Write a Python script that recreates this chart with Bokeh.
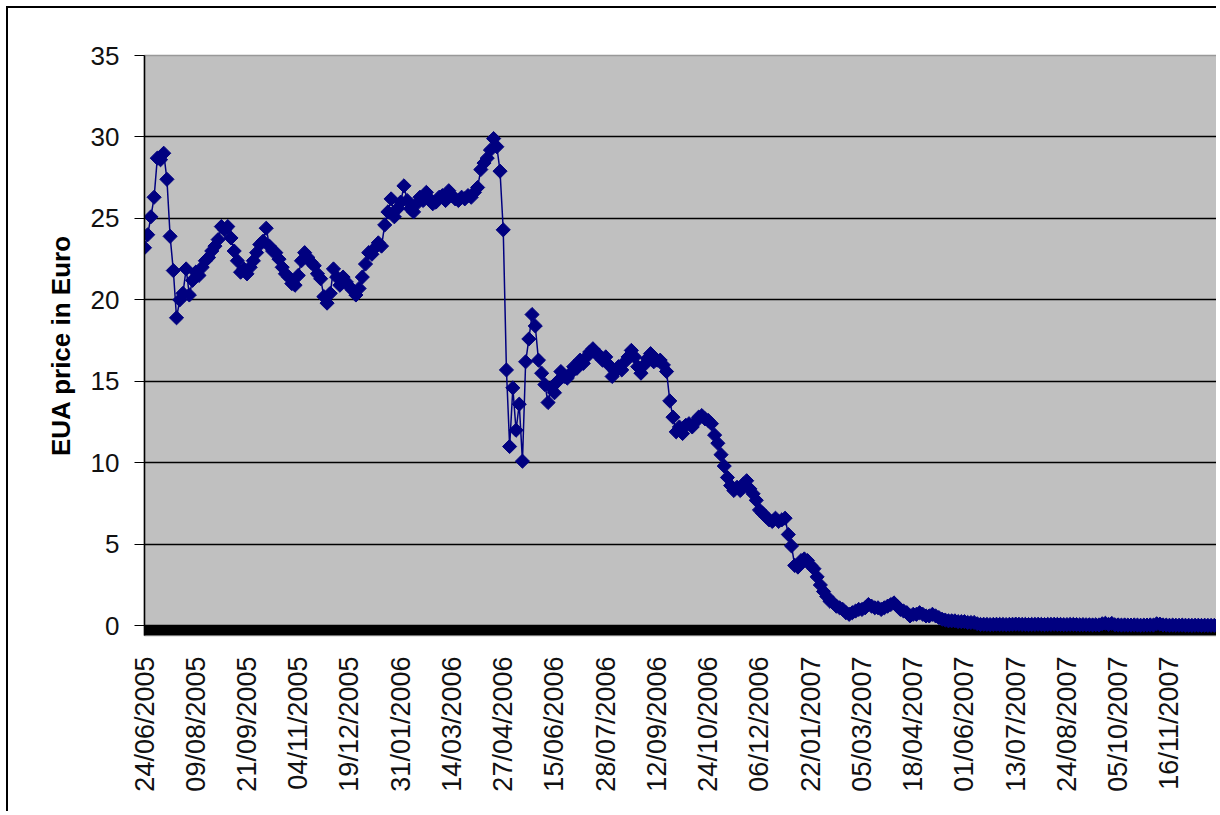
from math import pi
from bokeh.plotting import figure
from bokeh.models import Range1d, FixedTicker, BoxAnnotation, ColumnDataSource
from bokeh.embed import file_html
from bokeh.resources import INLINE

# ---- data ----
tick_dates = [
    "24/06/2005", "09/08/2005", "21/09/2005", "04/11/2005", "19/12/2005",
    "31/01/2006", "14/03/2006", "27/04/2006", "15/06/2006", "28/07/2006",
    "12/09/2006", "24/10/2006", "06/12/2006", "22/01/2007", "05/03/2007",
    "18/04/2007", "01/06/2007", "13/07/2007", "24/08/2007", "05/10/2007",
    "16/11/2007",
]
trading_days_per_label = 32
days_per_sample = 2

eua_price = [
    23.2, 24.0, 25.1, 26.3, 28.7, 28.6, 29.0, 27.4, 23.9, 21.8,
    18.9, 20.0, 20.4, 21.9, 20.3, 21.2, 21.7, 21.5, 22.0, 22.4,
    22.6, 23.0, 23.3, 23.7, 24.5, 24.3, 24.5, 23.8, 23.0, 22.4,
    21.7, 21.9, 21.6, 22.0, 22.4, 22.9, 23.4, 23.6, 24.4, 23.3,
    23.0, 22.9, 22.5, 22.0, 21.6, 21.4, 21.0, 20.9, 21.5, 22.4,
    22.9, 22.6, 22.3, 22.1, 21.6, 21.3, 20.2, 19.8, 20.4, 21.9,
    21.4, 20.9, 21.4, 21.1, 20.8, 20.6, 20.3, 20.7, 21.4, 22.2,
    22.9, 22.8, 23.2, 23.5, 23.3, 24.6, 25.4, 26.2, 25.1, 25.6,
    26.0, 27.0, 26.1, 25.6, 25.4, 25.9, 26.3, 26.1, 26.6, 26.2,
    25.9, 26.0, 26.3, 26.4, 26.1, 26.7, 26.4, 26.2, 26.1, 26.3,
    26.2, 26.4, 26.3, 26.6, 26.9, 28.0, 28.4, 28.7, 29.2, 29.9,
    29.4, 27.9, 24.3, 15.7, 11.0, 14.6, 12.0, 13.6, 10.1, 16.2,
    17.6, 19.1, 18.4, 16.3, 15.5, 14.8, 13.7, 14.6, 14.3, 15.0,
    15.6, 15.3, 15.2, 15.5, 15.9, 15.8, 16.3, 16.1, 16.5, 16.8,
    17.0, 16.7, 16.6, 16.3, 16.5, 16.0, 15.3, 15.6, 15.9, 15.7,
    16.2, 16.5, 16.9, 16.5, 15.9, 15.5, 16.0, 16.4, 16.7, 16.2,
    16.3, 16.3, 16.0, 15.6, 13.8, 12.8, 11.9, 12.2, 11.8, 12.3,
    12.4, 12.2, 12.5, 12.8, 12.9, 12.7, 12.6, 12.4, 11.7, 11.2,
    10.5, 9.8, 9.1, 8.6, 8.3, 8.5, 8.3, 8.7, 8.9, 8.4,
    8.1, 7.7, 7.1, 6.9, 6.7, 6.5, 6.4, 6.6, 6.4, 6.5,
    6.6, 5.6, 4.9, 3.7, 3.6, 4.0, 4.1, 4.0, 3.7, 3.5,
    3.0, 2.5, 2.1, 1.8, 1.5, 1.4, 1.2, 1.1, 1.0, 0.8,
    0.7, 0.8, 0.9, 1.0, 1.0, 1.1, 1.3, 1.2, 1.1, 1.1,
    1.0, 1.1, 1.2, 1.3, 1.4, 1.2, 1.0, 0.9, 0.8, 0.6,
    0.7, 0.7, 0.8, 0.7, 0.6, 0.6, 0.7, 0.6, 0.5, 0.4,
    0.35, 0.3, 0.3, 0.3, 0.25, 0.25, 0.25, 0.2, 0.2, 0.2,
    0.12, 0.08, 0.09, 0.08, 0.07, 0.08, 0.09, 0.08, 0.08, 0.07,
    0.08, 0.09, 0.10, 0.09, 0.08, 0.08, 0.07, 0.08, 0.08, 0.09,
    0.08, 0.07, 0.08, 0.08, 0.09, 0.08, 0.08, 0.07, 0.07, 0.08,
    0.08, 0.07, 0.06, 0.07, 0.06, 0.06, 0.05, 0.06, 0.05, 0.12,
    0.15, 0.08, 0.14, 0.06, 0.05, 0.04, 0.05, 0.04, 0.04, 0.05,
    0.04, 0.03, 0.04, 0.04, 0.05, 0.04, 0.12, 0.10, 0.05, 0.04,
    0.03, 0.04, 0.03, 0.03, 0.04, 0.03, 0.03, 0.02, 0.03, 0.03,
    0.02, 0.03, 0.02, 0.02, 0.02,
]
y_ticks = [0, 5, 10, 15, 20, 25, 30, 35]
y_title = "EUA price in Euro"

# ---- build ----
day_index = [i * days_per_sample for i in range(len(eua_price))]
src = ColumnDataSource(dict(day=day_index, price=eua_price))

W, H = 1210, 805
p = figure(
    width=W, height=H,
    x_range=Range1d(0, 670), y_range=Range1d(-0.6, 35),
    output_backend="svg", toolbar_location=None,
    min_border_left=136, min_border_right=1, min_border_top=47, min_border_bottom=178,
    background_fill_color="#C0C0C0", border_fill_color="white",
)
# outer chart frame: visible left and top edges
p.styles = {
    "margin-left": "6px", "margin-top": "6px",
    "border-left": "2px solid black", "border-top": "2px solid black",
}
p.outline_line_color = "#999999"
p.outline_line_width = 1.5

# black band under the zero line (Excel category axis)
p.add_layout(BoxAnnotation(top=0, fill_color="black", fill_alpha=1.0,
                           line_color=None, level="underlay"))

p.line("day", "price", source=src, line_color="#000080", line_width=1.5)
p.scatter("day", "price", source=src, marker="square", angle=pi / 4, size=10,
          fill_color="#000080", line_color="#000080", line_width=1)

# grids
p.xgrid.visible = False
p.ygrid.ticker = FixedTicker(ticks=y_ticks[:-1])
p.ygrid.grid_line_color = "black"
p.ygrid.grid_line_width = 1.5

# x axis
ticks = [i * trading_days_per_label for i in range(len(tick_dates))]
p.xaxis.ticker = FixedTicker(ticks=ticks)
p.xaxis.major_label_overrides = {t: d for t, d in zip(ticks, tick_dates)}
p.xaxis.major_label_orientation = pi / 2
p.xaxis.major_label_text_font = "Liberation Sans"
p.xaxis.major_label_text_font_size = "27px"
p.xaxis.major_label_text_color = "#111111"
p.xaxis.major_label_standoff = 15
p.xaxis.major_tick_line_color = None
p.xaxis.minor_tick_line_color = None
p.xaxis.axis_line_color = None

# y axis
p.yaxis.ticker = FixedTicker(ticks=y_ticks)
p.yaxis.major_label_text_font = "Liberation Sans"
p.yaxis.major_label_text_font_size = "26px"
p.yaxis.major_label_text_color = "#111111"
p.yaxis.major_label_standoff = 15
p.yaxis.major_tick_out = 10
p.yaxis.major_tick_in = 0
p.yaxis.major_tick_line_color = "black"
p.yaxis.minor_tick_line_color = None
p.yaxis.axis_line_color = "black"
p.yaxis.axis_line_width = 1.5
p.yaxis.axis_label = y_title
p.yaxis.axis_label_text_font = "Liberation Sans"
p.yaxis.axis_label_text_font_size = "26px"
p.yaxis.axis_label_text_font_style = "bold"
p.yaxis.axis_label_text_color = "black"
p.yaxis.axis_label_standoff = 12

open("out.html", "w").write(file_html(p, INLINE))
